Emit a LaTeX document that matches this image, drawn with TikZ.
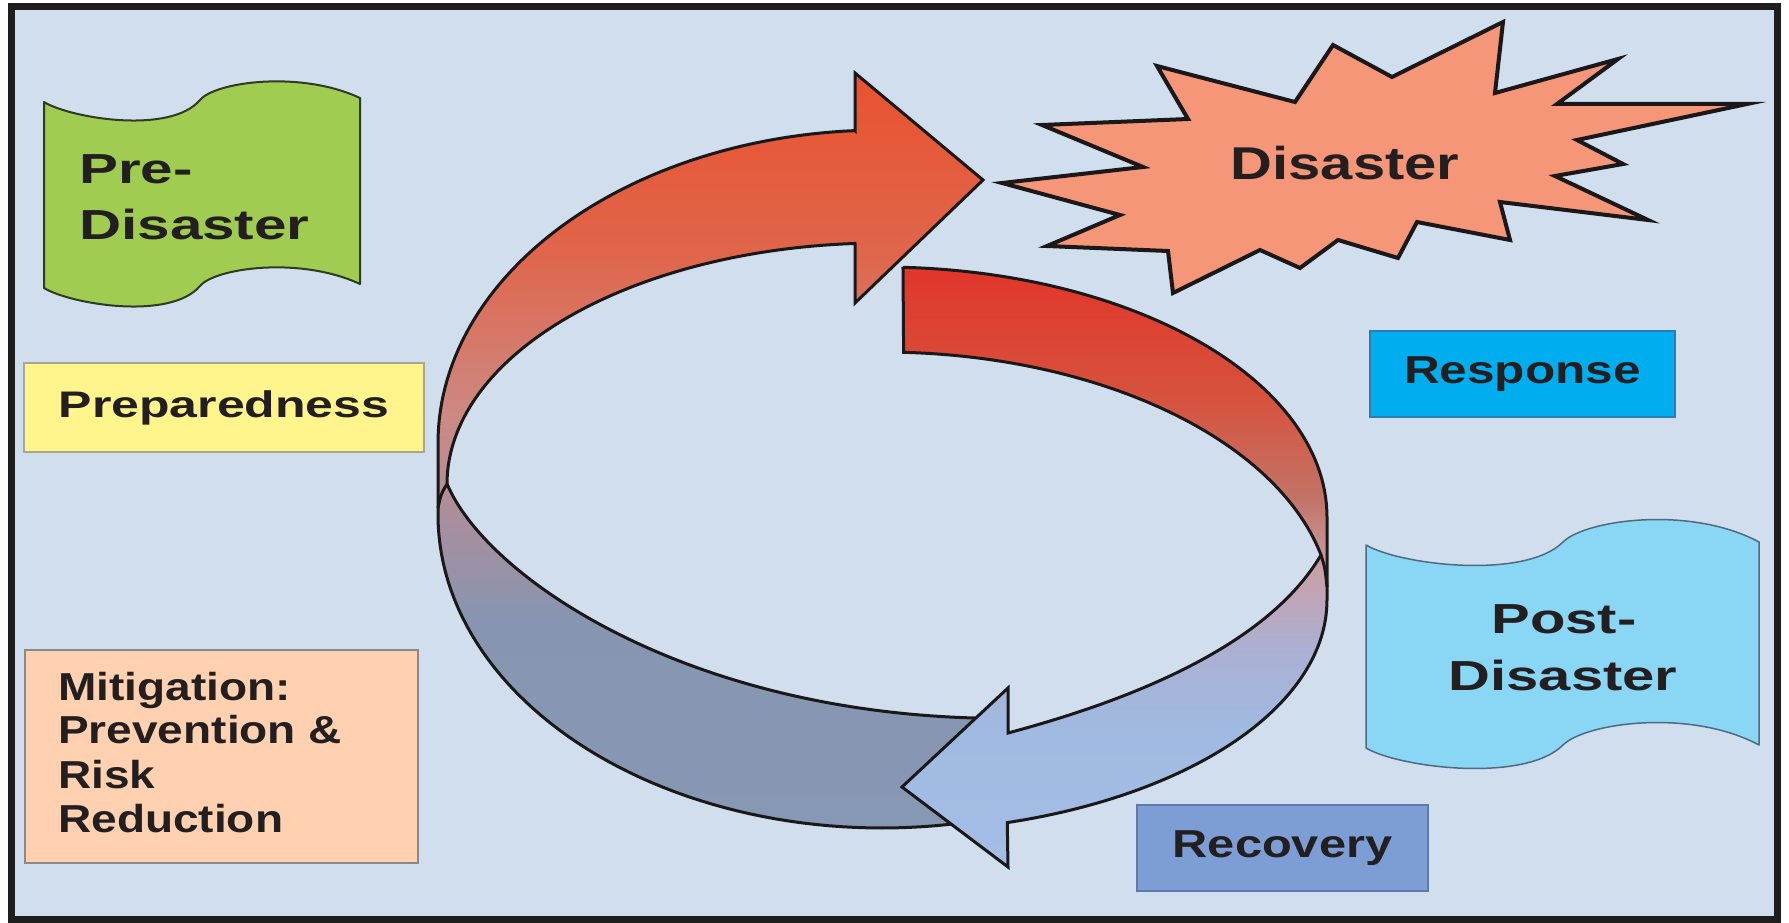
\documentclass[tikz,border=0pt]{standalone}
\usepackage{fontspec}
\usepackage{graphicx}
\newfontfamily\labfont{Liberation Sans}
\newcommand{\hsc}[2]{\scalebox{#1}[1]{#2}}
\definecolor{bg}{HTML}{D1DEEE}
\definecolor{framec}{HTML}{1E1E1E}
\definecolor{ink}{HTML}{231F20}
\definecolor{ink2}{HTML}{1A1818}
\definecolor{greenf}{HTML}{A1CC52}
\definecolor{greenl}{HTML}{2F3A22}
\definecolor{prepfill}{HTML}{FFF58C}
\definecolor{prepline}{HTML}{A8A890}
\definecolor{mitfill}{HTML}{FFD1B0}
\definecolor{mitline}{HTML}{8A8A8A}
\definecolor{burstf}{HTML}{F59678}
\definecolor{respfill}{HTML}{00AEEF}
\definecolor{respline}{HTML}{2A7FB0}
\definecolor{postf}{HTML}{8AD6F5}
\definecolor{postl}{HTML}{4E6A80}
\definecolor{recfill}{HTML}{7C9ED4}
\definecolor{recline}{HTML}{5E7AA8}
% left arrow shading stops
\definecolor{lc0}{HTML}{E9522F}
\definecolor{lc1}{HTML}{E0654A}
\definecolor{lc2}{HTML}{CC8A84}
\definecolor{lc3}{HTML}{A98E9E}
\definecolor{lc4}{HTML}{8795B0}
\definecolor{lc5}{HTML}{8798B4}
% right arrow shading stops
\definecolor{rc0}{HTML}{E2352A}
\definecolor{rc1}{HTML}{D6533E}
\definecolor{rc2}{HTML}{C27468}
\definecolor{rc3}{HTML}{C9A0A8}
\definecolor{rc4}{HTML}{ABB0D2}
\definecolor{rc5}{HTML}{A0BAE2}
\definecolor{rc6}{HTML}{A4BDE6}
\pgfdeclareverticalshading{lshade}{100bp}{color(0bp)=(lc5); color(25bp)=(lc5); color(38.8bp)=(lc4); color(45.4bp)=(lc3); color(52bp)=(lc2); color(63.3bp)=(lc1); color(75bp)=(lc0); color(100bp)=(lc0)}
\pgfdeclareverticalshading{rshade}{100bp}{color(0bp)=(rc6); color(25bp)=(rc6); color(36.4bp)=(rc5); color(43.1bp)=(rc4); color(49.75bp)=(rc3); color(55.6bp)=(rc2); color(63.9bp)=(rc1); color(75bp)=(rc0); color(100bp)=(rc0)}
\begin{document}
\begin{tikzpicture}[x=1pt,y=-1pt,
  txt/.style={font=\labfont\bfseries, text=ink, inner sep=0pt},
  sz/.style={font=\labfont\bfseries\fontsize{#1}{#1}\selectfont},
  flatbox/.style={rectangle, inner sep=0pt, line width=1.5pt},
  ring/.style={draw=ink2, line width=3pt, line join=miter},
  wave/.style={line width=2pt, line join=round},
  burst/.style={draw=ink2, fill=burstf, line width=4pt, line join=miter}]
\useasboundingbox (0,0) rectangle (1789,923);
\fill[white] (0,0) rectangle (1789,923);
\draw[line width=7pt, draw=framec, fill=bg] (11,7) rectangle (1777,919);

% Pre-Disaster wave
\draw[wave, draw=greenl, fill=greenf] (44,102) .. controls (70,118) and (170,135) .. (200,100)
  .. controls (215,82) and (300,70) .. (360,98) -- (360,284)
  .. controls (300,256) and (215,268) .. (200,286)
  .. controls (170,321) and (70,304) .. (44,288) -- cycle;
\node[txt, sz=42, anchor=base west] (pre1) at (79,183) {\hsc{1.39}{Pre-}};
\node[txt, sz=42, anchor=base west] (pre2) at (79,239) {\hsc{1.39}{Disaster}};

% Preparedness
\node[flatbox, draw=prepline, fill=prepfill, minimum width=400pt, minimum height=89pt, txt, sz=37] (prep) at (224,407.5) {\hsc{1.35}{Preparedness}};

% Mitigation
\node[flatbox, draw=mitline, fill=mitfill, minimum width=393pt, minimum height=213pt] (mitbox) at (221.5,756.5) {};
\node[txt, sz=39, anchor=base west] (mit1) at (58,700) {\hsc{1.18}{Mitigation:}};
\node[txt, sz=39, anchor=base west] (mit2) at (58,743) {\hsc{1.18}{Prevention \&}};
\node[txt, sz=39, anchor=base west] (mit3) at (58,788) {\hsc{1.18}{Risk}};
\node[txt, sz=39, anchor=base west] (mit4) at (58,832) {\hsc{1.18}{Reduction}};

% Disaster starburst
\draw[burst] (1002,183) -- (1143,167) -- (1042,125) -- (1188,119) -- (1157,66) -- (1295,102)
  -- (1333,45) -- (1392,77) -- (1503,22) -- (1495,93) -- (1618,59) -- (1557,104) -- (1747,104)
  -- (1577,140) -- (1623,164) -- (1555,176) -- (1648,220) -- (1500,202) -- (1510,240)
  -- (1417,222) -- (1398,258) -- (1338,240) -- (1300,268) -- (1260,250) -- (1173,293)
  -- (1168,251) -- (1047,246) -- (1120,215) -- cycle;
\node[txt, sz=46, anchor=base] (dis) at (1345,179) {\hsc{1.26}{Disaster}};

% Response
\node[flatbox, draw=respline, fill=respfill, minimum width=305pt, minimum height=86pt, txt, sz=39] (resp) at (1522.5,374) {\hsc{1.27}{Response}};

% Post-Disaster wave
\draw[wave, line width=1.5pt, draw=postl, fill=postf] (1366,545) .. controls (1400,565) and (1525,580) .. (1563,542)
  .. controls (1585,520) and (1690,505) .. (1759,542) -- (1759,745)
  .. controls (1690,708) and (1585,723) .. (1563,745)
  .. controls (1525,783) and (1400,768) .. (1366,748) -- cycle;
\node[txt, sz=42, anchor=base] (post1) at (1564,633) {\hsc{1.38}{Post-}};
\node[txt, sz=42, anchor=base] (post2) at (1563,690) {\hsc{1.38}{Disaster}};

% Recovery
\node[flatbox, draw=recline, fill=recfill, minimum width=291pt, minimum height=86pt, txt, sz=39] (rec) at (1282.5,848) {\hsc{1.25}{Recovery}};

% left (pre-disaster) curved arrow
\shadedraw[ring, shading=lshade]
  (855,131) -- (855,73) -- (983,180) -- (855,303) -- (855,244)
  -- plot[domain=0:1, samples=60] ({882+435*cos(93.56+86.44*\x)},{484-241*sin(93.56+86.44*\x)})
  .. controls (485,575) and (680,710) .. (975,718)
  -- (975,821)
  -- plot[domain=0:1, samples=60] ({882+444*cos(282.1-102.1*\x)},{515-313*sin(282.1-102.1*\x)})
  -- (438,443)
  -- plot[domain=0:1, samples=60] ({882+444*cos(180-86.5*\x)},{443-313*sin(180-86.5*\x)})
  -- cycle;
\draw[ring] (447,484) .. controls (441,494) .. (438,508);

% right (post-disaster) curved arrow
\shadedraw[ring, shading=rshade]
  (903,267)
  -- plot[domain=0:1, samples=60] ({882+445*cos(87.3-87.3*\x)},{517-250*sin(87.3-87.3*\x)})
  -- (1327,600)
  -- plot[domain=0:1, samples=60] ({882+445*cos(73.7*\x)},{600+232*sin(73.7*\x)})
  -- (1008,867) -- (902,787) -- (1008,688) -- (1008,733)
  .. controls (1120,703) and (1265,650) .. (1321,555)
  -- plot[domain=0:1, samples=60] ({882+450*cos(12.7+74.6*\x)},{612-260*sin(12.7+74.6*\x)})
  -- cycle;
\draw[ring] (1321,555) .. controls (1325,568) .. (1327,587);
\end{tikzpicture}
\end{document}
